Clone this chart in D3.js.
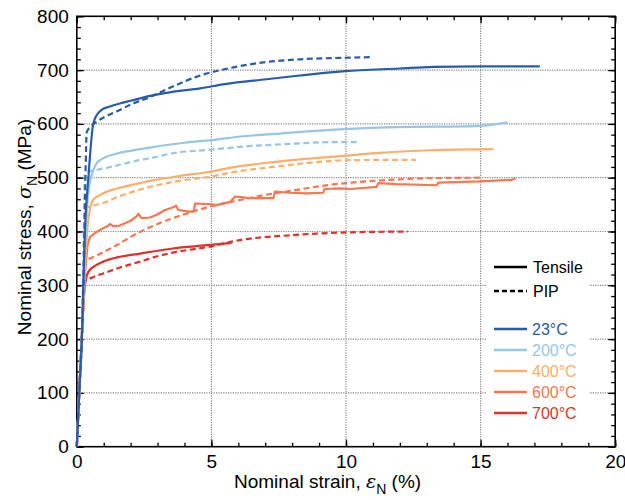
<!DOCTYPE html>
<html lang="en">
<head>
<meta charset="UTF-8">
<title>Stress-strain</title>
<script src="https://cdnjs.cloudflare.com/ajax/libs/d3/7.8.5/d3.min.js"></script>
<style>
  body { margin: 0; background: #fff; }
  text { font-family: "Liberation Sans", Arial, sans-serif; }
</style>
</head>
<body>
<div id="chart"></div>
<script>
// strain (%) / stress (MPa)
const temps = ["23°C", "200°C", "400°C", "600°C", "700°C"];
const colors = ["#2a5ba8", "#97c5e4", "#fdae6a", "#f87651", "#e0312a"];

const tensile23 = [[0,0],[0.1,110],[0.2,220],[0.24,300],[0.3,400],[0.43,500],[0.61,600],[0.75,617],[0.92,626],[1.2,632],[1.6,638],[2.0,643],[2.72,652],[3.5,659],[4.58,666],[5.5,674],[7.05,683],[8.29,690],[9.96,698],[12.0,703],[13.24,706],[15.0,707],[17.2,707]];
const pip23 = [[0,0],[0.1,110],[0.2,220],[0.27,350],[0.32,500],[0.37,585],[0.5,594],[0.68,602],[1.0,612],[1.6,626],[2.0,636],[2.72,650],[3.5,668],[4.58,690],[5.81,705],[7.05,715],[8.29,720],[9.96,723],[10.9,724]];

const tensile200 = [[0,0],[0.1,110],[0.2,220],[0.27,330],[0.35,420],[0.45,480],[0.6,512],[0.74,527],[0.98,536],[1.5,545],[2.0,550],[2.72,556],[4.0,565],[5.0,570],[6.2,577],[7.55,582],[9.41,589],[11.88,594],[14.85,596],[15.5,599],[16.0,603]];
const pip200 = [[0,0],[0.1,110],[0.2,220],[0.26,400],[0.3,505],[0.5,512],[0.98,517],[1.6,524],[2.35,533],[2.72,536],[3.5,545],[4.95,552],[6.5,559],[8.0,563],[9.41,566],[10.4,566]];

const tensile400 = [[0,0],[0.1,110],[0.2,220],[0.3,330],[0.4,410],[0.5,445],[0.61,459],[0.98,471],[1.5,480],[2.35,490],[2.72,494],[3.8,503],[4.95,511],[6.0,521],[7.3,529],[8.5,535],[9.78,540],[11.26,546],[13.12,551],[15.47,553]];
const pip400 = [[0,0],[0.1,110],[0.2,220],[0.27,400],[0.3,442],[0.6,448],[0.98,453],[1.6,466],[2.35,478],[2.72,483],[3.8,494],[4.95,502],[6.0,512],[7.3,520],[8.5,527],[9.78,532],[11.0,533],[12.6,533]];

const tensile600 = [[0,0],[0.1,110],[0.2,220],[0.3,320],[0.4,375],[0.49,390],[0.7,398],[0.98,406],[1.15,410],[1.23,414],[1.35,410],[1.6,411],[2.0,420],[2.22,428],[2.29,433],[2.4,425],[2.72,426],[2.97,431],[3.28,440],[3.58,445],[3.69,448],[3.77,440],[4.2,437],[4.35,438],[4.39,452],[4.95,451],[5.2,449],[5.69,455],[5.88,465],[6.43,462],[7.3,462],[7.36,474],[7.92,472],[8.54,471],[9.16,472],[9.2,479],[9.78,480],[10.15,479],[11.14,483],[11.2,490],[11.88,488],[13.37,486],[13.43,491],[14.98,493],[16.15,496],[16.3,499]];
const pip600 = [[0,0],[0.1,110],[0.2,220],[0.3,345],[0.6,352],[1.0,362],[1.5,375],[2.0,390],[2.5,403],[3.0,414],[4.0,432],[5.0,447],[6.0,458],[7.0,468],[8.0,476],[9.0,484],[10.0,490],[11.0,494],[12.0,497],[13.0,499],[15.0,500]];

const tensile700 = [[0,0],[0.1,110],[0.2,220],[0.3,300],[0.43,325],[0.7,337],[0.98,344],[1.6,353],[2.35,359],[2.72,362],[3.5,368],[4.95,375],[5.75,379]];
const pip700 = [[0,0],[0.1,110],[0.2,220],[0.3,307],[0.6,315],[0.98,322],[1.6,333],[2.35,344],[2.72,350],[3.5,360],[4.95,372],[6.06,384],[7.92,393],[9.78,398],[12.3,400]];

const xMajor = [0, 5, 10, 15, 20];
const yMajor = [0, 100, 200, 300, 400, 500, 600, 700, 800];

const tensileSets = [tensile23, tensile200, tensile400, tensile600, tensile700];
const pipSets = [pip23, pip200, pip400, pip600, pip700];

const W = 625, H = 500;
const mLeft = 76.8, mRight = 615.2, mTop = 16.3, mBottom = 446.7;

const x = d3.scaleLinear().domain([0, 20]).range([mLeft, mRight]);
const y = d3.scaleLinear().domain([0, 800]).range([mBottom, mTop]);

const svg = d3.select("#chart").append("svg")
  .attr("width", W).attr("height", H);

// grid
const grid = svg.append("g")
  .attr("stroke", "#888").attr("stroke-width", 1.2).attr("stroke-dasharray", "1.2,1.2");
grid.selectAll("line.v").data(xMajor.slice(1, -1)).enter().append("line")
  .attr("x1", d => x(d)).attr("x2", d => x(d)).attr("y1", mTop).attr("y2", mBottom);
grid.selectAll("line.h").data(yMajor.slice(1, -1)).enter().append("line")
  .attr("x1", mLeft).attr("x2", mRight).attr("y1", d => y(d)).attr("y2", d => y(d));

// legend background hides the grid
svg.append("rect").attr("x", 487).attr("y", 254).attr("width", 102).attr("height", 170).attr("fill", "#fff");

// axes: ticks inward on all four sides
const minorX = d3.range(0, 21, 1), minorY = d3.range(0, 801, 20);
function axes(gen, scale, pos, minor, major, labels) {
  const g = svg.append("g").attr("transform", pos);
  g.call(gen(scale).tickValues(minor).tickSize(-4).tickFormat(""));
  const m = svg.append("g").attr("transform", pos)
    .call(gen(scale).tickValues(major).tickSize(-7).tickPadding(labels ? 8 : 0)
      .tickFormat(labels ? d3.format("d") : ""));
  g.select(".domain").remove();
  m.select(".domain").remove();
  svg.selectAll(".tick line").attr("stroke", "#000").attr("stroke-width", 1.3);
  m.selectAll("text").attr("font-size", 19).attr("fill", "#000")
    .attr("font-family", "Liberation Sans, Arial, sans-serif");
  return m;
}
axes(d3.axisBottom, x, `translate(0,${mBottom})`, minorX, xMajor, true);
axes(d3.axisTop, x, `translate(0,${mTop})`, minorX, xMajor, false);
axes(d3.axisLeft, y, `translate(${mLeft},0)`, minorY, yMajor, true);
axes(d3.axisRight, y, `translate(${mRight},0)`, minorY, yMajor, false);

svg.append("rect").attr("x", mLeft).attr("y", mTop)
  .attr("width", mRight - mLeft).attr("height", mBottom - mTop)
  .attr("fill", "none").attr("stroke", "#000").attr("stroke-width", 1.6);

// curves
const smooth = d3.line().x(d => x(d[0])).y(d => y(d[1])).curve(d3.curveMonotoneX);
const straight = d3.line().x(d => x(d[0])).y(d => y(d[1]));

const curves = svg.append("g").attr("fill", "none").attr("stroke-width", 2.2)
  .attr("stroke-linejoin", "round");
// draw hottest first so the 23°C curves end up on top
for (let i = temps.length - 1; i >= 0; i--) {
  curves.append("path").attr("d", smooth(pipSets[i]))
    .attr("stroke", colors[i]).attr("stroke-dasharray", "6,3.5");
  curves.append("path").attr("d", i === 3 ? straight(tensileSets[i]) : smooth(tensileSets[i]))
    .attr("stroke", colors[i]);
}

// legend
const lg = svg.append("g").attr("font-family", "DejaVu Sans Condensed, DejaVu Sans, sans-serif")
  .attr("font-size", 16);
[["Tensile", null], ["PIP", "5,3"]].forEach((d, i) => {
  const yy = 267 + i * 24;
  lg.append("line").attr("x1", 494).attr("x2", 527).attr("y1", yy).attr("y2", yy)
    .attr("stroke", "#000").attr("stroke-width", 2.4).attr("stroke-dasharray", d[1]);
  lg.append("text").attr("x", 533).attr("y", yy + 6).attr("fill", "#000").text(d[0]);
});
temps.forEach((t, i) => {
  const yy = 329 + i * 21;
  lg.append("line").attr("x1", 494).attr("x2", 527).attr("y1", yy).attr("y2", yy)
    .attr("stroke", colors[i]).attr("stroke-width", 2.4);
  lg.append("text").attr("x", 532).attr("y", yy + 6).attr("fill", colors[i]).text(t);
});

// axis titles
const xt = svg.append("text").attr("x", 234).attr("y", 488).attr("font-size", 19).attr("fill", "#000");
xt.append("tspan").text("Nominal strain, ");
xt.append("tspan").attr("font-style", "italic").attr("font-family", "DejaVu Serif, serif").text("ε");
xt.append("tspan").attr("font-size", 14).attr("dy", 6).text("N");
xt.append("tspan").attr("dy", -6).text(" (%)");

const yt = svg.append("text").attr("transform", "translate(31,227) rotate(-90)")
  .attr("text-anchor", "middle").attr("font-size", 19).attr("fill", "#000");
yt.append("tspan").text("Nominal stress, ");
yt.append("tspan").attr("font-style", "italic").attr("font-family", "DejaVu Serif, serif").text("σ");
yt.append("tspan").attr("font-size", 14).attr("dy", 6).text("N");
yt.append("tspan").attr("dy", -6).text(" (MPa)");
</script>
</body>
</html>
